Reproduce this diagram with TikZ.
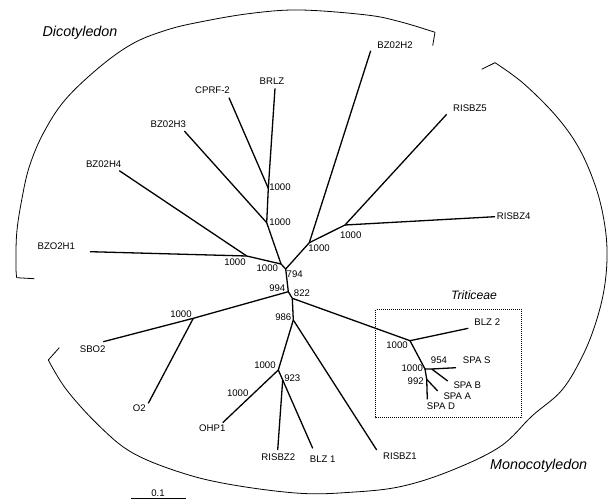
\documentclass[tikz,border=0pt]{standalone}
\usepackage{fontspec}
\setmainfont{Liberation Sans}
\begin{document}
\begin{tikzpicture}[x=1pt, y=-1pt,
		branch/.style={line width=1.3pt},
		clade/.style={line width=0.8pt},
		leaf/.style={inner sep=0pt, font=\fontsize{9.6}{11}\selectfont},
		boot/.style={inner sep=0pt, font=\fontsize{9.6}{11}\selectfont},
		group/.style={inner sep=0pt, font=\fontsize{14.3}{16}\selectfont\itshape}]
		\useasboundingbox (0,0) rectangle (608,500);

		% clade brackets
		\draw[clade] (34.3,278.7) -- (16.7,277.7);
		\draw[clade] plot[smooth, tension=0.6] coordinates {(16.7,277.7) (16,266.7) (16.7,233.3) (21.7,200) (29.3,166.7) (43.3,133.3) (65,100) (100,66.7) (133.3,43.3) (166.7,30) (200,22) (250,13.5) (300,10) (366.7,15) (400,21.7) (435,32.3)};
		\draw[clade] (435,32.3) -- (432.7,45.7);
		\draw[clade] (481.7,69.3) -- (495,62.7);
		\draw[clade] plot[smooth, tension=0.6] coordinates {(495,62.7) (523.3,83.3) (556.7,116.7) (580,150) (596.7,190) (605,226.7) (607,258) (604,290) (596,322) (583,355) (562,390) (532,416) (500,446.7) (450,471) (400,486.7) (350,492.3) (300,493.3) (233.3,485) (183.3,473.3) (133.3,453.3) (100,426.7) (66.7,390) (48.3,360)};
		\draw[clade] (48.3,360) -- (59.3,347.7);
		\node[group] (dicot) at (80,32.7) {Dicotyledon};
		\node[group] (monocot) at (538.7,465.7) {Monocotyledon};
		\node[inner sep=0pt, font=\fontsize{12.2}{14}\selectfont\itshape] (tritic) at (474,294.7) {Triticeae};
		\draw[line width=0.6pt, dash pattern=on 0.8pt off 1.2pt] (375.5,309.5) rectangle (521.5,417.5);

		% junctions
		\coordinate (jA) at (268.3,188.3);
		\coordinate (jB) at (266.7,222.7);
		\coordinate (jC) at (281,264);
		\coordinate (jD) at (246.7,256);
		\coordinate (n794) at (285.7,269);
		\coordinate (jE) at (309.3,242.7);
		\coordinate (jF) at (345,225);
		\coordinate (n994) at (288.3,291.7);
		\coordinate (jG) at (193.3,318.3);
		\coordinate (n822) at (292.3,298.3);
		\coordinate (n986) at (293.3,320);
		\coordinate (jH) at (278.3,370);
		\coordinate (n923) at (282.7,380);
		\coordinate (jT) at (410,340.7);
		\coordinate (jU) at (425,369);
		\coordinate (n954) at (431.7,369);
		\coordinate (n992) at (426.7,379.3);

		% leaf ends
		\coordinate (eBRLZ) at (275,88.3);
		\coordinate (eCPRF) at (229,97.7);
		\coordinate (eH3) at (184.3,131);
		\coordinate (eH4) at (119.3,170.7);
		\coordinate (eH1) at (90,251.7);
		\coordinate (eH2) at (370.7,50.7);
		\coordinate (eR5) at (446.7,114.3);
		\coordinate (eR4) at (495,216.7);
		\coordinate (eSBO) at (103.3,341.7);
		\coordinate (eO) at (148.3,403.3);
		\coordinate (eOHP) at (222.7,422.7);
		\coordinate (eR2) at (277.7,450);
		\coordinate (eBLZa) at (312.7,448.3);
		\coordinate (eR1) at (376.7,450);
		\coordinate (eBLZb) at (468.3,328.3);
		\coordinate (eSPS) at (456,367.7);
		\coordinate (eSPB) at (447.7,381);
		\coordinate (eSPA) at (437.7,391);
		\coordinate (eSPD) at (427.3,399.3);

		% branches
		\draw[branch] (eBRLZ) -- (jA) -- (jB) -- (jC) -- (n794) -- (n994) -- (n822) -- (n986);
		\draw[branch] (jA) -- (eCPRF);
		\draw[branch] (jB) -- (eH3);
		\draw[branch] (eH4) -- (jD) -- (jC);
		\draw[branch] (eH1) -- (jD);
		\draw[branch] (n794) -- (jE) -- (eH2);
		\draw[branch] (jE) -- (jF) -- (eR5);
		\draw[branch] (jF) -- (eR4);
		\draw[branch] (n994) -- (jG) -- (eSBO);
		\draw[branch] (jG) -- (eO);
		\draw[branch] (n986) -- (jH) -- (eOHP);
		\draw[branch] (jH) -- (n923) -- (eR2);
		\draw[branch] (n923) -- (eBLZa);
		\draw[branch] (n986) -- (eR1);
		\draw[branch] (n822) -- (jT) -- (eBLZb);
		\draw[branch] (jT) -- (jU) -- (n954) -- (eSPS);
		\draw[branch] (n954) -- (eSPB);
		\draw[branch] (jU) -- (n992) -- (eSPA);
		\draw[branch] (n992) -- (eSPD);

		% leaf names
		\node[leaf] (BRLZ) at (272,80.7) {BRLZ};
		\node[leaf] (CPRF) at (212.5,89.7) {CPRF-2};
		\node[leaf] (H3) at (168.3,123.7) {BZ02H3};
		\node[leaf] (H4) at (103.7,164) {BZ02H4};
		\node[leaf] (H1) at (56.3,246) {BZO2H1};
		\node[leaf] (H2) at (395,45) {BZ02H2};
		\node[leaf] (R5) at (470,108.3) {RISBZ5};
		\node[leaf] (R4) at (513.7,216.3) {RISBZ4};
		\node[leaf] (SBO) at (92.7,348.7) {SBO2};
		\node[leaf] (O) at (139.3,408.3) {O2};
		\node[leaf] (OHP) at (212.3,428.3) {OHP1};
		\node[leaf] (R2) at (278.3,456.7) {RISBZ2};
		\node[leaf] (BLZa) at (322.7,459.3) {BLZ 1};
		\node[leaf] (R1) at (400,456) {RISBZ1};
		\node[leaf] (BLZb) at (487.3,322) {BLZ 2};
		\node[leaf] (SPS) at (476.7,360.3) {SPA S};
		\node[leaf] (SPB) at (467.3,385.3) {SPA B};
		\node[leaf] (SPA) at (457.3,395.7) {SPA A};
		\node[leaf] (SPD) at (441,405.7) {SPA D};

		% bootstrap values
		\node[boot] (bA) at (280,186.7) {1000};
		\node[boot] (bB) at (280,221.7) {1000};
		\node[boot] (bD) at (235,261.7) {1000};
		\node[boot] (bC) at (267.3,268.3) {1000};
		\node[boot] (b794) at (294.7,273.7) {794};
		\node[boot] (b994) at (277.3,287.7) {994};
		\node[boot] (b822) at (302,292.7) {822};
		\node[boot] (bE) at (319,248.3) {1000};
		\node[boot] (bF) at (350.7,234.7) {1000};
		\node[boot] (bG) at (181,313.7) {1000};
		\node[boot] (b986) at (283.3,317.3) {986};
		\node[boot] (bH) at (265,364.7) {1000};
		\node[boot] (b923) at (292.3,378.3) {923};
		\node[boot] (bOHP) at (237.7,393.3) {1000};
		\node[boot] (bT) at (397,344.7) {1000};
		\node[boot] (bU) at (412.3,368.3) {1000};
		\node[boot] (b954) at (439,360.3) {954};
		\node[boot] (b992) at (415.7,381.3) {992};

		% scale bar
		\coordinate (sbL) at (131,498.3);
		\coordinate (sbR) at (185.7,498.3);
		\draw[line width=1.5pt] (sbL) -- (sbR);
		\node[boot] (sb) at (158,492.7) {0.1};
	\end{tikzpicture}
\end{document}
